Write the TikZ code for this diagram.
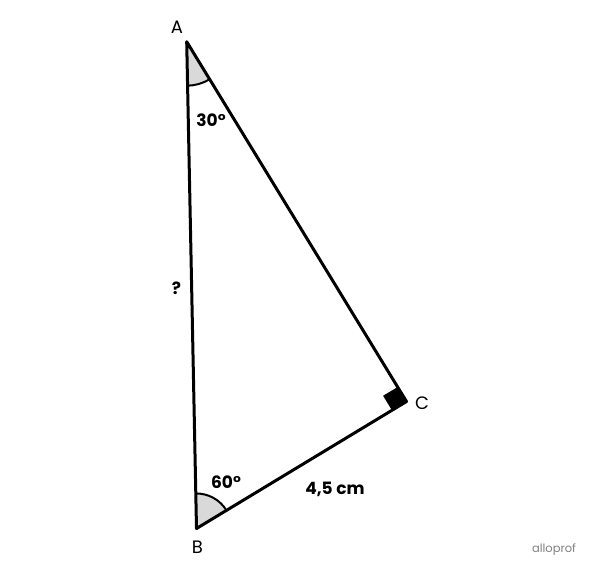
\documentclass[tikz,border=0pt]{standalone}
\usepackage{fontspec}
\setmainfont{Poppins}
\usetikzlibrary{calc}
\begin{document}
\begin{tikzpicture}[x=1pt,y=-1pt,
  side/.style={line width=3pt,line join=round,line cap=round},
  anglefill/.style={fill=black!15},
  anglearc/.style={line width=2pt},
  vlabel/.style={font=\fontsize{18}{18}\selectfont,inner sep=0pt},
  mlabel/.style={font=\bfseries\fontsize{17}{17}\selectfont,inner sep=0pt}]
\useasboundingbox (0,0) rectangle (600,574);
\coordinate (A) at (186.7,41.7);
\coordinate (B) at (196.5,528.5);
\coordinate (C) at (406.5,401.5);
% angle marks
\fill[anglefill] (A) -- ($(A)!44pt!(B)$) arc[start angle=88.85,end angle=58.58,radius=44] -- cycle;
\draw[anglearc] ($(A)!44pt!(B)$) arc[start angle=88.85,end angle=58.58,radius=44];
\fill[anglefill] (B) -- ($(B)!35pt!(A)$) arc[start angle=-91.15,end angle=-31.16,radius=35] -- cycle;
\draw[anglearc] ($(B)!35pt!(A)$) arc[start angle=-91.15,end angle=-31.16,radius=35];
% right angle
\fill (C) -- ($(C)!17pt!(A)$) -- ($($(C)!17pt!(A)$)+($(C)!17pt!(B)$)-(C)$) -- ($(C)!17pt!(B)$) -- cycle;
% sides
\draw[side] (A) -- (B) -- (C) -- cycle;
% labels
\node[vlabel] (la) at (177,27) {A};
\node[vlabel] (lb) at (197.5,547) {B};
\node[vlabel] (lc) at (422,403) {C};
\node[mlabel] (a30) at (211,120) {30°};
\node[mlabel] (a60) at (226,482) {60°};
\node[mlabel] (sbc) at (335,489) {4,5 cm};
\node[mlabel] (sab) at (176.5,288) {?};
\node[font=\fontsize{11.5}{11.5}\selectfont,text=black!50,inner sep=0pt] (logo) at (554,550) {alloprof};
\end{tikzpicture}
\end{document}
